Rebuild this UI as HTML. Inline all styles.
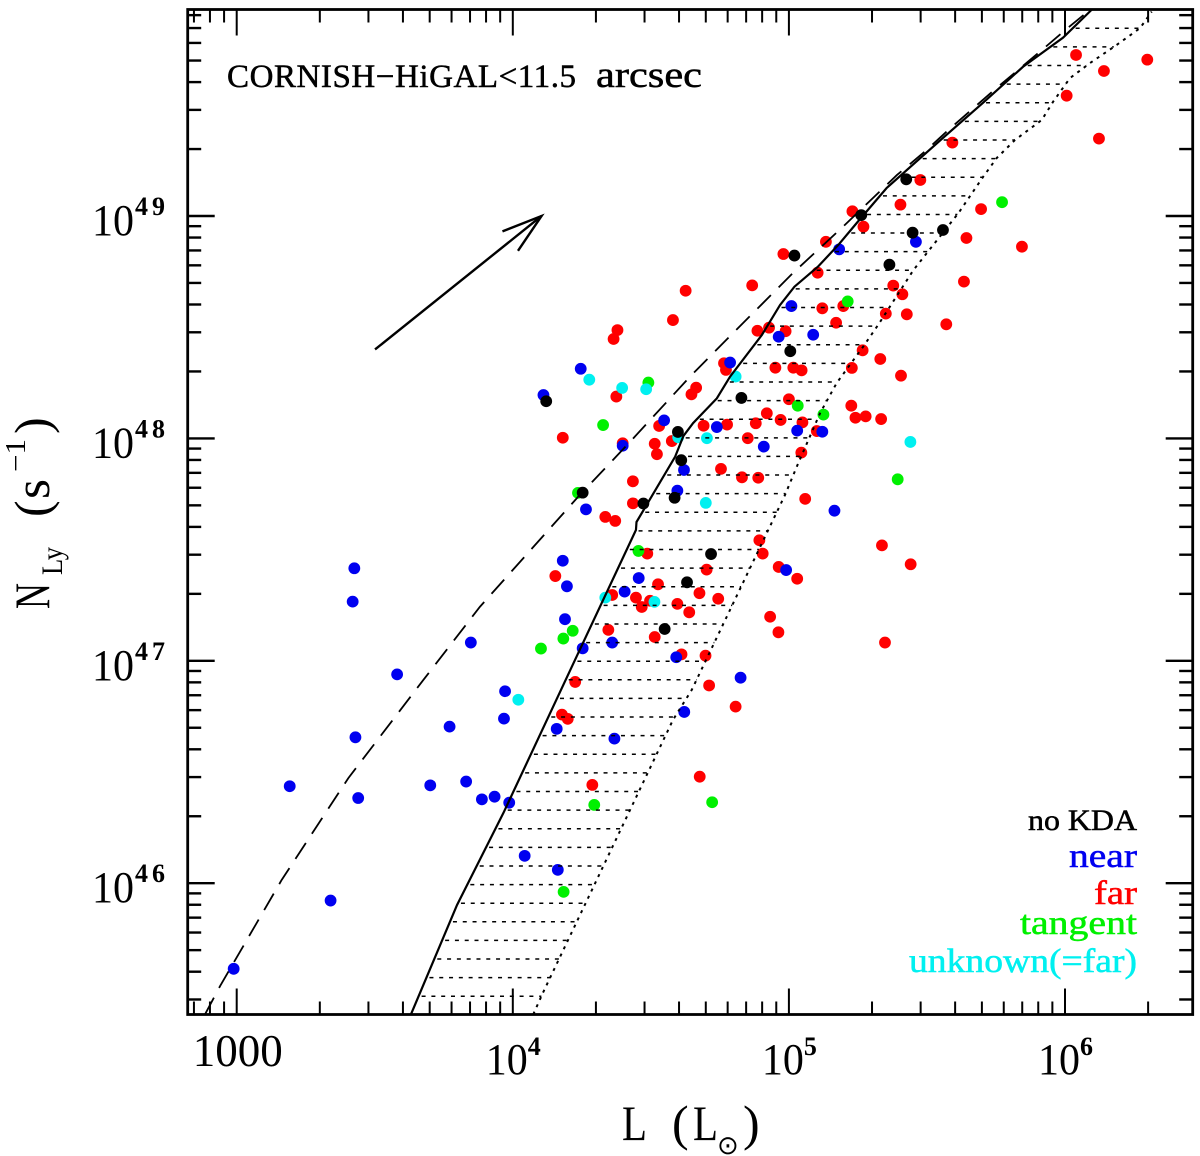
<!DOCTYPE html>
<html lang="en">
<head>
<meta charset="utf-8">
<title>CORNISH-HiGAL Lyman continuum vs luminosity</title>
<style>
  html, body { margin: 0; padding: 0; background: #fff; }
  svg { display: block; }
  .serif { font-family: "Liberation Serif", serif; fill: #000; }
  .thick { font-family: "Liberation Serif", serif; stroke-width: 0.5; }
</style>
</head>
<body>
<svg id="chart" xmlns="http://www.w3.org/2000/svg" width="1200" height="1156" viewBox="0 0 1200 1156">
  <rect x="0" y="0" width="1200" height="1156" fill="#fff"></rect>
  <g id="markers"></g>
  <g id="curves"></g>
  <g id="ticks"></g>
  <rect x="187.7" y="9.5" width="1005" height="1005" fill="none" stroke="#000" stroke-width="2.8"></rect>
  <g id="labels"></g>

  <g class="thick" fill="#000" stroke="#000">
    <text x="227" y="87" font-size="33" textLength="349" lengthAdjust="spacing">CORNISH−HiGAL&lt;11.5</text>
    <text x="596" y="87" font-size="37" textLength="106" lengthAdjust="spacingAndGlyphs">arcsec</text>
  </g>

  <g class="thick" font-size="34" text-anchor="end">
    <text x="1137" y="830" font-size="30" fill="#000" stroke="#000" textLength="109" lengthAdjust="spacingAndGlyphs">no KDA</text>
    <text x="1137" y="867" fill="#0000f0" stroke="#0000f0" textLength="68" lengthAdjust="spacingAndGlyphs">near</text>
    <text x="1137" y="904" fill="#ff0000" stroke="#ff0000" textLength="43" lengthAdjust="spacingAndGlyphs">far</text>
    <text x="1137" y="934" fill="#00f000" stroke="#00f000" textLength="117" lengthAdjust="spacingAndGlyphs">tangent</text>
    <text x="1137" y="972" fill="#00f0f0" stroke="#00f0f0" textLength="228" lengthAdjust="spacingAndGlyphs">unknown(=far)</text>
  </g>

  <g class="serif" font-size="50">
    <text x="622" y="1140" textLength="25" lengthAdjust="spacingAndGlyphs">L</text>
    <text x="672" y="1140">(</text>
    <text x="693" y="1140" textLength="25" lengthAdjust="spacingAndGlyphs">L</text>
    <text x="717" y="1154" style="font-family:'DejaVu Sans',sans-serif" font-size="26">⊙</text>
    <text x="743" y="1140">)</text>
  </g>

  <g class="serif" font-size="50">
    <text transform="translate(49 609) rotate(-90)" textLength="26" lengthAdjust="spacingAndGlyphs">N</text>
    <text transform="translate(62 575) rotate(-90)" font-size="30" textLength="28" lengthAdjust="spacingAndGlyphs">Ly</text>
    <text transform="translate(49 517) rotate(-90)">(</text>
    <text transform="translate(49 499) rotate(-90)" textLength="20" lengthAdjust="spacingAndGlyphs">s</text>
    <text transform="translate(25 472) rotate(-90)" font-size="28" textLength="33" lengthAdjust="spacingAndGlyphs">−1</text>
    <text transform="translate(49 434) rotate(-90)">)</text>
  </g>
</svg>

<script>
// Axis tick data (log10 values)
const xTickValues = [3, 4, 5, 6];
const xTickBases = ['1000', '10', '10', '10'];
const xTickExps = ['', '4', '5', '6'];
const yTickValues = [49, 48, 47, 46];
const yTickBases = ['10', '10', '10', '10'];
const yTickExps = ['49', '48', '47', '46'];

// Far sources: log10 L, log10 N_Ly
const farLogL = [6.040,6.141,6.298,6.006,6.123,5.592,5.476,5.404,5.696,5.230,5.270,5.643,5.844,5.134,4.980,5.104,5.634,4.867,5.378,5.411,5.121,5.197,5.351,5.427,5.570,5.171,4.886,4.928,4.988,5.267,5.331,4.765,4.772,4.951,5.016,5.046,5.228,5.406,4.379,4.365,4.626,4.580,4.664,4.647,4.375,5.000,4.920,4.970,5.049,4.880,4.776,4.691,4.530,5.226,5.241,5.278,5.334,5.101,4.851,4.576,4.514,4.181,4.522,5.045,4.398,4.754,4.435,4.830,4.889,4.435,5.059,4.335,4.371,4.893,4.487,4.905,5.337,4.702,4.963,5.441,5.030,4.154,4.526,4.676,4.744,4.360,4.446,4.497,4.467,4.596,4.639,4.932,4.962,4.346,4.514,5.348,4.611,4.698,4.226,4.711,4.178,4.199,4.807,4.288,4.677];
const farLogN = [49.724,49.652,49.703,49.541,49.348,49.330,49.162,49.051,49.031,49.021,48.952,48.901,48.862,48.884,48.829,48.745,48.705,48.688,48.687,48.648,48.585,48.595,48.561,48.558,48.513,48.520,48.484,48.498,48.482,48.396,48.357,48.338,48.308,48.318,48.318,48.306,48.317,48.282,48.487,48.447,48.664,48.532,48.228,48.198,48.188,48.176,48.113,48.083,48.072,48.068,48.062,48.057,48.056,48.147,48.093,48.099,48.087,48.033,48.001,47.988,47.976,48.003,47.929,47.936,47.978,47.863,47.807,47.825,47.823,47.708,47.728,47.647,47.629,47.542,47.482,47.482,47.519,47.410,47.422,47.434,47.369,47.381,47.344,47.304,47.279,47.296,47.284,47.270,47.242,47.256,47.218,47.198,47.128,47.139,47.107,47.082,47.029,47.023,46.905,46.889,46.758,46.739,46.794,46.442,46.479];

// Near sources
const nearLogL = [4.246,4.111,4.787,4.548,4.398,4.739,5.030,5.121,4.909,4.620,4.596,4.265,5.165,4.181,4.990,4.196,4.456,4.405,4.189,3.848,4.360,4.253,4.592,4.825,4.621,4.963,5.088,5.460,5.182,5.009,3.426,3.420,3.581,3.972,3.968,3.771,3.430,4.159,4.368,3.192,3.701,3.831,3.888,3.934,3.987,3.440,4.043,4.163,3.340,2.989];
const nearLogN = [48.313,48.195,48.341,48.081,47.967,48.051,48.035,48.030,47.963,47.858,47.765,47.681,47.675,47.450,47.408,47.335,47.372,47.311,47.187,47.082,47.082,47.056,47.016,46.924,46.770,48.457,48.466,48.884,48.850,48.595,47.416,47.266,46.939,46.863,46.740,46.704,46.656,46.694,46.650,46.436,46.440,46.457,46.377,46.389,46.362,46.383,46.123,46.060,45.922,45.615];

// Tangent sources
const tangentLogL = [5.772,5.213,4.491,5.032,5.125,4.327,5.394,4.236,4.455,4.217,4.183,4.102,4.295,4.184,4.722];
const tangentLogN = [49.062,48.616,48.251,48.147,48.107,48.060,47.816,47.755,47.494,47.135,47.100,47.055,46.352,45.961,46.364];

// Unknown-distance sources
const unknownLogL = [4.807,4.277,4.396,4.483,4.599,4.703,5.440,4.699,4.335,4.513,4.020];
const unknownLogN = [48.278,48.264,48.227,48.221,48.005,48.001,47.984,47.710,47.284,47.265,46.825];

// Sources without KDA
const noKdaLogL = [5.425,5.262,5.448,5.558,5.020,5.364,5.005,4.828,4.121,4.598,4.610,4.253,4.473,4.586,4.718,4.631,4.550];
const noKdaLogN = [49.165,49.004,48.925,48.937,48.822,48.781,48.392,48.182,48.167,48.029,47.902,47.756,47.707,47.733,47.480,47.353,47.143];

// Model curves
const solidLogL = [3.631,3.664,3.798,3.966,4.231,4.446,4.448,4.588,4.618,4.653,4.739,4.787,4.902,4.968,5.020,5.105,5.179,5.246,5.354,5.558,5.703,5.848,5.993,6.097];
const solidLogN = [45.410,45.507,45.902,46.316,47.019,47.588,47.624,47.918,48.011,48.069,48.180,48.278,48.465,48.600,48.682,48.772,48.870,48.969,49.126,49.351,49.509,49.671,49.802,49.928];
const dashedLogL = [2.885,2.940,3.163,3.404,3.676,3.881,4.237,4.425,4.642,4.798,5.015,5.196,5.391,5.499,5.584,5.747,5.916,5.994,6.091];
const dashedLogN = [45.410,45.538,46.015,46.472,46.914,47.243,47.738,47.985,48.278,48.474,48.744,48.952,49.184,49.297,49.394,49.570,49.746,49.829,49.928];
const dottedLogL = [4.074,4.109,4.580,4.648,4.986,5.034,5.113,5.173,5.268,5.323,5.451,5.614,5.704,5.753,5.819,5.916,5.957,6.018,6.091,6.187,6.272,6.314];
const dottedLogN = [45.410,45.507,46.734,46.869,47.746,47.889,48.114,48.249,48.411,48.510,48.757,49.013,49.177,49.261,49.342,49.432,49.514,49.620,49.688,49.769,49.845,49.919];

// Reddening-style arrow (log10 L, log10 N_Ly)
const arrowLogL = [3.501, 4.104];
const arrowLogN = [48.400, 49.000];

// Hatch levels in log10 N_Ly
const hatchTop = 49.844;
const hatchStep = 0.0837;
const hatchCount = 53;

// Axis functions
function xPos(v) { return 187.7 + (v - 2.8225) / (6.4625 - 2.8225) * 1005; }
function yPos(v) { return 9.5 + (49.9285 - v) / (49.9285 - 45.4096) * 1005; }

const NS = 'http://www.w3.org/2000/svg';
function make(tag, attrs, parent) {
  const el = document.createElementNS(NS, tag);
  for (const k in attrs) el.setAttribute(k, attrs[k]);
  parent.appendChild(el);
  return el;
}

const markersG = document.getElementById('markers');
const curvesG = document.getElementById('curves');
const ticksG = document.getElementById('ticks');
const labelsG = document.getElementById('labels');

// Markers
function drawSeries(logL, logN, color, name) {
  logL.forEach(function (v, i) {
    const c = make('circle', { cx: xPos(v), cy: yPos(logN[i]), r: 5.9, fill: color }, markersG);
    
    
  });
}
drawSeries(farLogL, farLogN, '#ff0000', 'far-source-point');
drawSeries(nearLogL, nearLogN, '#0000f0', 'near-source-point');
drawSeries(tangentLogL, tangentLogN, '#00f000', 'tangent-source-point');
drawSeries(unknownLogL, unknownLogN, '#00f0f0', 'unknown-source-point');
drawSeries(noKdaLogL, noKdaLogN, '#000000', 'no-kda-source-point');

// Curves
function pointsOf(logL, logN) {
  return logL.map(function (v, i) { return xPos(v) + ',' + yPos(logN[i]); }).join(' ');
}
const solid = make('polyline', { points: pointsOf(solidLogL, solidLogN), fill: 'none', stroke: '#000', 'stroke-width': 2.2 }, curvesG);


const dashed = make('polyline', { points: pointsOf(dashedLogL, dashedLogN), fill: 'none', stroke: '#000', 'stroke-width': 1.8, 'stroke-dasharray': '19 11' }, curvesG);


const dotted = make('polyline', { points: pointsOf(dottedLogL, dottedLogN), fill: 'none', stroke: '#000', 'stroke-width': 2, 'stroke-dasharray': '3 5' }, curvesG);



// Hatching between solid and dotted curves
function curveAt(logL, logN, n) {
  for (let i = 0; i < logN.length - 1; i++) {
    if (n >= logN[i] && n <= logN[i + 1]) {
      const t = (n - logN[i]) / (logN[i + 1] - logN[i]);
      return logL[i] + t * (logL[i + 1] - logL[i]);
    }
  }
  return null;
}
for (let k = 0; k < hatchCount; k++) {
  const level = hatchTop - k * hatchStep;
  const a = curveAt(solidLogL, solidLogN, level);
  const b = curveAt(dottedLogL, dottedLogN, level);
  if (a === null || b === null) continue;
  const h = make('line', { x1: xPos(a) + 3, x2: xPos(b), y1: yPos(level), y2: yPos(level), stroke: '#000', 'stroke-width': 1.5, 'stroke-dasharray': '4 5.8' }, curvesG);
  
  
}

// Arrow
const ax0 = xPos(arrowLogL[0]), ay0 = yPos(arrowLogN[0]);
const ax1 = xPos(arrowLogL[1]), ay1 = yPos(arrowLogN[1]);
const arrowAngle = Math.atan2(ay1 - ay0, ax1 - ax0);
function barb(delta) {
  return (ax1 - 42 * Math.cos(arrowAngle + delta)) + ',' + (ay1 - 42 * Math.sin(arrowAngle + delta));
}
const arrowShaft = make('line', { x1: ax0, y1: ay0, x2: ax1, y2: ay1, stroke: '#000', 'stroke-width': 2.4 }, curvesG);


const arrowHead = make('polyline', { points: barb(-0.3) + ' ' + ax1 + ',' + ay1 + ' ' + barb(0.3), fill: 'none', stroke: '#000', 'stroke-width': 2.4 }, curvesG);



// Ticks on all four sides
const frameL = 187.7, frameR = 1192.7, frameT = 9.5, frameB = 1014.5;
const minorMultipliers = [2, 3, 4, 5, 6, 7, 8, 9];
function xTick(v, len) {
  const x = xPos(v);
  if (x <= frameL || x >= frameR) return;
  const t1 = make('line', { x1: x, x2: x, y1: frameB, y2: frameB - len, stroke: '#000', 'stroke-width': 2 }, ticksG);
  
  
  const t2 = make('line', { x1: x, x2: x, y1: frameT, y2: frameT + len, stroke: '#000', 'stroke-width': 2 }, ticksG);
  
  
}
function yTick(v, len) {
  const y = yPos(v);
  if (y <= frameT || y >= frameB) return;
  const t1 = make('line', { x1: frameL, x2: frameL + len, y1: y, y2: y, stroke: '#000', 'stroke-width': 2.4 }, ticksG);
  
  
  const t2 = make('line', { x1: frameR, x2: frameR - len, y1: y, y2: y, stroke: '#000', 'stroke-width': 2.4 }, ticksG);
  
  
}
for (let d = 2; d <= 6; d++) {
  xTick(d, 26);
  minorMultipliers.forEach(function (m) { xTick(d + Math.log10(m), 13); });
}
for (let d = 45; d <= 49; d++) {
  yTick(d, 27);
  minorMultipliers.forEach(function (m) { yTick(d + Math.log10(m), 13.5); });
}

// Tick labels
xTickValues.forEach(function (v, i) {
  const x = xPos(v);
  if (xTickExps[i] === '') {
    const t = make('text', { x: x + 1, y: 1066, 'text-anchor': 'middle', 'font-size': 45, class: 'serif' }, labelsG);
    
    
    t.textContent = xTickBases[i];
  } else {
    const t = make('text', { x: x - 27, y: 1074, 'font-size': 44, class: 'serif', textLength: 42, lengthAdjust: 'spacingAndGlyphs' }, labelsG);
    
    
    t.textContent = xTickBases[i];
    const s = make('text', { x: x + 15, y: 1055, 'font-size': 26, 'font-weight': 'bold', class: 'serif' }, labelsG);
    
    
    s.textContent = xTickExps[i];
  }
});
yTickValues.forEach(function (v, i) {
  const y = yPos(v);
  const t = make('text', { x: 92, y: y + 19, 'font-size': 44, class: 'serif', textLength: 42, lengthAdjust: 'spacingAndGlyphs' }, labelsG);
  
  
  t.textContent = yTickBases[i];
  const s = make('text', { x: 135, y: y - 1, 'font-size': 26, 'font-weight': 'bold', class: 'serif', textLength: 30, lengthAdjust: 'spacing' }, labelsG);
  
  
  s.textContent = yTickExps[i];
});
</script>
</body>
</html>
